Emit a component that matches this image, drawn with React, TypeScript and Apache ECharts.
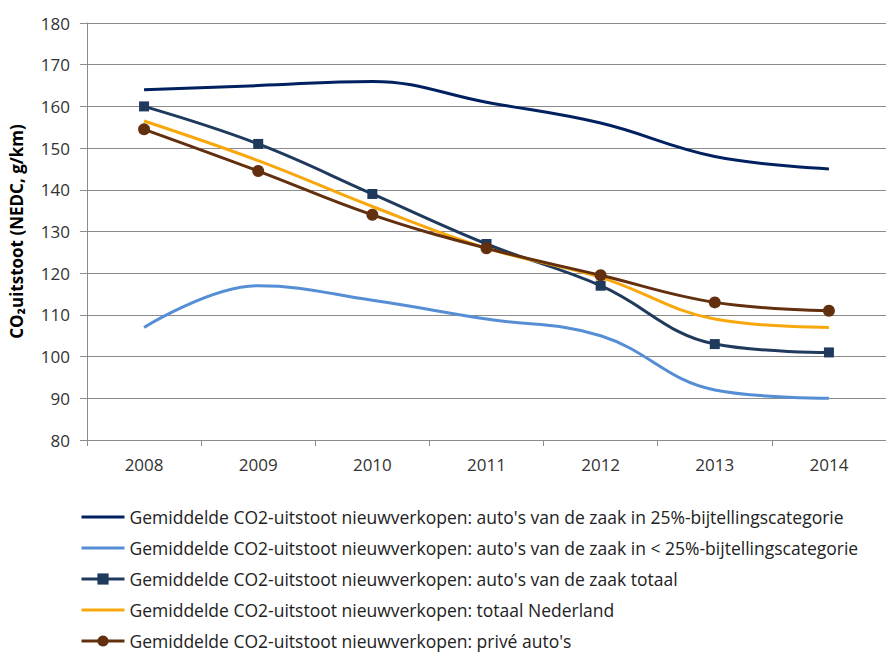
import React, { useEffect, useRef } from "react";
import * as echarts from "echarts";

const years = ["2008", "2009", "2010", "2011", "2012", "2013", "2014"];
const zaak25 = [164, 165, 166, 161, 156, 148, 145];
const zaakLt25 = [107, 117, 113.5, 109, 105, 92, 90];
const zaakTotaal = [160, 151, 139, 127, 117, 103, 101];
const totaalNL = [156.5, 147, 136, 126, 119, 109, 107];
const prive = [154.5, 144.5, 134, 126, 119.5, 113, 111];

const names = [
  "Gemiddelde CO2-uitstoot nieuwverkopen: auto's van de zaak in 25%-bijtellingscategorie",
  "Gemiddelde CO2-uitstoot nieuwverkopen: auto's van de zaak in < 25%-bijtellingscategorie",
  "Gemiddelde CO2-uitstoot nieuwverkopen: auto's van de zaak totaal",
  "Gemiddelde CO2-uitstoot nieuwverkopen: totaal Nederland",
  "Gemiddelde CO2-uitstoot nieuwverkopen: privé auto's",
];
const hasSymbol = [false, false, true, false, true];

const FONT = "'Open Sans', 'Noto Sans', sans-serif";

export default function App() {
  const ref = useRef<HTMLDivElement>(null);
  useEffect(() => {
    if (!ref.current) return;
    const chart = echarts.init(ref.current, undefined, { renderer: "svg" });
    const line = (
      name: string,
      data: number[],
      color: string,
      symbol: string,
      symbolSize: number,
      z: number
    ) => ({
      name,
      type: "line",
      data,
      smooth: 0.4,
      symbol,
      symbolSize,
      showSymbol: symbol !== "none",
      z,
      lineStyle: { color, width: 3 },
      itemStyle: { color },
    });
    chart.setOption({
      animation: false,
      textStyle: { fontFamily: FONT },
      grid: { left: 85, right: -12, top: 23, bottom: 215, containLabel: false },
      xAxis: {
        type: "category",
        data: years,
        boundaryGap: true,
        axisLine: { lineStyle: { color: "#8c8c8c", width: 1 } },
        axisTick: { show: true, length: 6, lineStyle: { color: "#8c8c8c" } },
        axisLabel: { color: "#333", fontSize: 17, margin: 16, fontFamily: FONT },
      },
      yAxis: {
        type: "value",
        min: 80,
        max: 180,
        interval: 10,
        name: "CO₂uitstoot (NEDC, g/km)",
        nameLocation: "middle",
        nameGap: 62,
        nameRotate: 90,
        nameTextStyle: { color: "#000", fontSize: 17, fontWeight: "bold", fontFamily: FONT },
        axisLine: { show: true, lineStyle: { color: "#8c8c8c", width: 1 } },
        axisTick: { show: true, length: 7, lineStyle: { color: "#8c8c8c" } },
        axisLabel: { color: "#333", fontSize: 17, margin: 17, fontFamily: FONT },
        splitLine: { lineStyle: { color: "#8c8c8c", width: 1 } },
      },
      legend: {
        orient: "vertical",
        left: 75,
        top: 503,
        height: 220,
        itemWidth: 43,
        itemHeight: 14,
        itemGap: 13,
        lineStyle: { width: 3 },
        textStyle: { color: "#222", fontSize: 17.5, fontFamily: FONT },
        data: names.map((n, i) =>
          hasSymbol[i] ? { name: n } : { name: n, itemStyle: { opacity: 0 } }
        ),
      },
      series: [
        line(names[0], zaak25, "#002060", "none", 0, 2),
        line(names[1], zaakLt25, "#558ed5", "none", 0, 2),
        line(names[2], zaakTotaal, "#1f3a5c", "rect", 10, 3),
        line(names[3], totaalNL, "#f8a70c", "none", 0, 4),
        line(names[4], prive, "#63300f", "circle", 12, 5),
      ],
    });
    return () => chart.dispose();
  }, []);
  return (
    <div
      ref={ref}
      style={{ position: "absolute", left: 0, top: 0, width: 886, height: 655, background: "#fff" }}
    />
  );
}
